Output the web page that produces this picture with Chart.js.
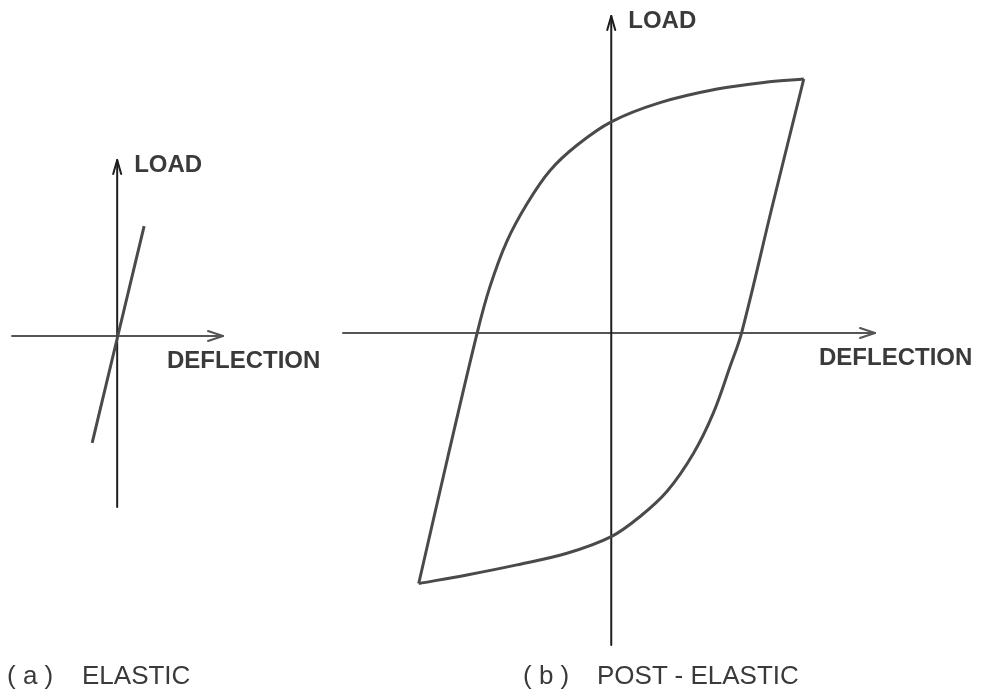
<!DOCTYPE html>
<html>
<head>
<meta charset="utf-8">
<script src="https://cdn.jsdelivr.net/npm/chart.js@4.4.1/dist/chart.umd.min.js"></script>
<style>
  body { margin: 0; background: #fff; }
  #wrap { position: relative; width: 985px; height: 692px; overflow: hidden; }
  canvas { position: absolute; top: 0; }
  #elastic { left: 0; }
  #postElastic { left: 330px; }
  .cap {
    position: absolute; top: 662px; font-family: "Liberation Sans", Arial, sans-serif;
    font-size: 26px; line-height: 26px; color: #3a3a3a; white-space: pre;
  }
</style>
</head>
<body>
<div id="wrap">
  <canvas id="elastic" width="330" height="692"></canvas>
  <canvas id="postElastic" width="655" height="692"></canvas>
  <div class="cap" style="left:7px">( a )</div>
  <div class="cap" style="left:82px">ELASTIC</div>
  <div class="cap" style="left:523px">( b )</div>
  <div class="cap" style="left:597px">POST - ELASTIC</div>
</div>
<script>
// (a) elastic: straight line through the origin
const elasticDefl = [-0.39, 0.42];
const elasticLoad = [-2.12, 2.18];

// (b) post-elastic hysteresis loop, both branches from bottom-left to top-right
const upperDefl = [-3.0, -2.55, -2.09, -1.89, -1.63, -1.31, -0.95, -0.53, 0, 0.76, 1.65, 2.43, 3.0];
const upperLoad = [-4.97, -2.48, 0, 0.92, 1.81, 2.57, 3.23, 3.73, 4.19, 4.57, 4.84, 4.98, 5.04];
const lowerDefl = [-3.0, -2.25, -1.47, -0.69, 0, 0.45, 0.87, 1.28, 1.59, 1.85, 2.03, 2.51, 3.0];
const lowerLoad = [-4.97, -4.80, -4.60, -4.37, -4.04, -3.64, -3.14, -2.39, -1.59, -0.67, 0, 2.52, 5.04];

const axisLabels = ["DEFLECTION", "LOAD"];

function pts(xs, ys) {
  return xs.map((x, i) => ({ x: x, y: ys[i] }));
}

// axes through the origin with arrow heads, plus their labels
const originAxes = {
  id: "originAxes",
  beforeDatasetsDraw(chart) {
    const c = chart.ctx;
    const xs = chart.scales.x, ys = chart.scales.y;
    const x0 = xs.getPixelForValue(0), y0 = ys.getPixelForValue(0);
    const left = xs.getPixelForValue(xs.min), right = xs.getPixelForValue(xs.max);
    const top = ys.getPixelForValue(ys.max), bottom = ys.getPixelForValue(ys.min);
    c.save();
    c.lineCap = "round";
    c.lineJoin = "round";

    // horizontal axis
    c.strokeStyle = "#555";
    c.lineWidth = 2;
    c.beginPath();
    c.moveTo(left, y0);
    c.lineTo(right, y0);
    c.stroke();
    c.beginPath();
    c.moveTo(right - 15, y0 - 5);
    c.lineTo(right, y0);
    c.lineTo(right - 15, y0 + 5);
    c.stroke();

    // vertical axis
    c.strokeStyle = "#1e1e1e";
    c.beginPath();
    c.moveTo(x0, bottom);
    c.lineTo(x0, top);
    c.stroke();
    c.beginPath();
    c.moveTo(x0 - 4, top + 14);
    c.lineTo(x0, top);
    c.lineTo(x0 + 4, top + 14);
    c.stroke();

    c.fillStyle = "#3a3a3a";
    c.font = "bold 24px 'Liberation Sans', Arial, sans-serif";
    c.textBaseline = "middle";
    c.textAlign = "left";
    c.fillText(axisLabels[0], right - 56, y0 + 25);
    c.fillText(axisLabels[1], x0 + 17, top + 5);
    c.restore();
  }
};

function makeChart(id, datasets, range, padding) {
  return new Chart(document.getElementById(id), {
    type: "scatter",
    data: { datasets: datasets },
    options: {
      responsive: false,
      animation: false,
      layout: { padding: padding },
      plugins: { legend: { display: false }, tooltip: { enabled: false } },
      scales: {
        x: { type: "linear", display: false, min: range[0], max: range[1] },
        y: { type: "linear", display: false, min: range[2], max: range[3] }
      }
    },
    plugins: [originAxes]
  });
}

const lineStyle = {
  showLine: true,
  borderColor: "#4a4a4a",
  borderWidth: 3,
  pointRadius: 0,
  tension: 0.35
};

makeChart("elastic",
  [Object.assign({ data: pts(elasticDefl, elasticLoad) }, lineStyle)],
  [-1.64, 1.65, -3.39, 3.49],
  { left: 12, right: 107, top: 160, bottom: 185 });

makeChart("postElastic",
  [
    Object.assign({ data: pts(upperDefl, upperLoad) }, lineStyle),
    Object.assign({ data: pts(lowerDefl, lowerLoad) }, lineStyle)
  ],
  [-4.18, 4.11, -6.19, 6.29],
  { left: 13, right: 110, top: 16, bottom: 47 });
</script>
</body>
</html>
